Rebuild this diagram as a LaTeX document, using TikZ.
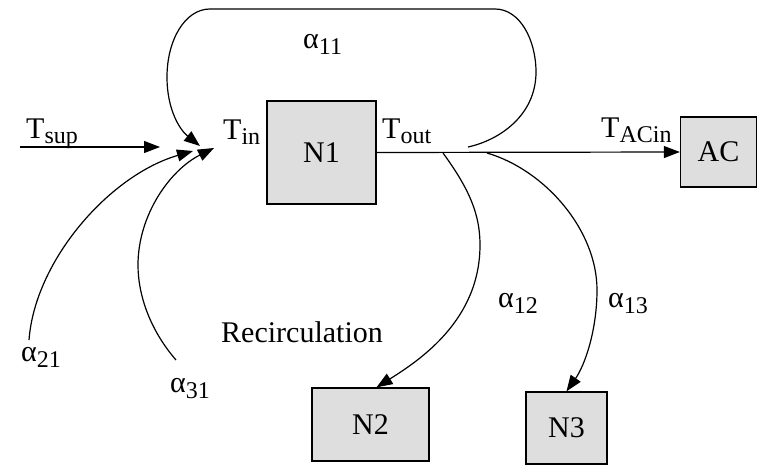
\documentclass[tikz,border=0pt]{standalone}
\usepackage{fontspec}
\setmainfont{Liberation Serif}
\usetikzlibrary{arrows.meta}
\newcommand\mainsz{\fontsize{30}{33}\selectfont}
\newcommand\subsz{\fontsize{24}{26}\selectfont}
\newcommand\Tlab[1]{T\raisebox{-5pt}{\subsz #1}}
\newcommand\alab[1]{α\raisebox{-6pt}{\subsz #1}}
\begin{document}
\begin{tikzpicture}[x=1pt,y=-1pt,
  box/.style={draw,line width=1.3pt,fill=black!13,inner sep=0pt,font=\mainsz},
  flow/.style={line width=1.2pt},
  tip/.style={-{Triangle[length=16pt,width=12pt]}},
  lbl/.style={inner sep=0pt,anchor=base west,font=\mainsz}]
\useasboundingbox (0,0) rectangle (758,466);

% blocks
\node[box,minimum width=109pt,minimum height=103pt] (N1) at (321.5,152.5) {N1};
\node[box,minimum width=76pt,minimum height=70pt] (AC) at (718.5,152) {AC};
\node[box,minimum width=117pt,minimum height=73pt] (N2) at (370.5,424.5) {N2};
\node[box,minimum width=81pt,minimum height=72pt] (N3) at (566.5,428) {N3};

% junction points
\coordinate (sup) at (20,147);
\coordinate (supend) at (160,147);
\coordinate (in11) at (200,146);
\coordinate (in21) at (193,151);
\coordinate (in31) at (214,148);
\coordinate (src21) at (29,340);
\coordinate (src31) at (176,360);
\coordinate (ret) at (468,147);
\coordinate (out12) at (443,153);
\coordinate (out13) at (487,153);

% supply and main flow
\draw[flow,tip] (sup) -- (supend);
\draw[flow,tip] (N1.east) -- (AC.west);

% self recirculation loop
\draw[flow,tip] (ret) .. controls (500,140) and (536,115) .. (536,72)
  .. controls (536,40) and (520,9) .. (495,9) -- (210,9)
  .. controls (185,9) and (167,40) .. (167,77)
  .. controls (167,110) and (180,130) .. (in11);

% recirculation from other zones
\draw[flow,tip] (src21) .. controls (35,260) and (110,175) .. (in21);
\draw[flow,tip] (src31) .. controls (150,330) and (138,295) .. (138,265)
  .. controls (138,215) and (170,170) .. (in31);

% outflows to other zones
\draw[flow,tip] (out12) .. controls (470,190) and (480,215) .. (480,245)
  .. controls (480,320) and (420,360) .. ([xshift=6pt]N2.north);
\draw[flow,tip] (out13) .. controls (545,170) and (597,230) .. (597,290)
  .. controls (597,330) and (585,365) .. (N3.north);

% labels
\node[lbl] (tsupl) at (26,138) {\Tlab{sup}};
\node[lbl] (tinl) at (223,139) {\Tlab{in}};
\node[lbl] (toutl) at (382,138) {\Tlab{out}};
\node[lbl] (tacl) at (601,137) {\Tlab{ACin}};
\node[lbl] (a11) at (303,48) {\alab{11}};
\node[lbl] (a21) at (21,361) {\alab{21}};
\node[lbl] (a31) at (170,392) {\alab{31}};
\node[lbl] (a12) at (498,307) {\alab{12}};
\node[lbl] (a13) at (608,307) {\alab{13}};
\node[lbl] (rec) at (221,342) {Recirculation};
\end{tikzpicture}
\end{document}
